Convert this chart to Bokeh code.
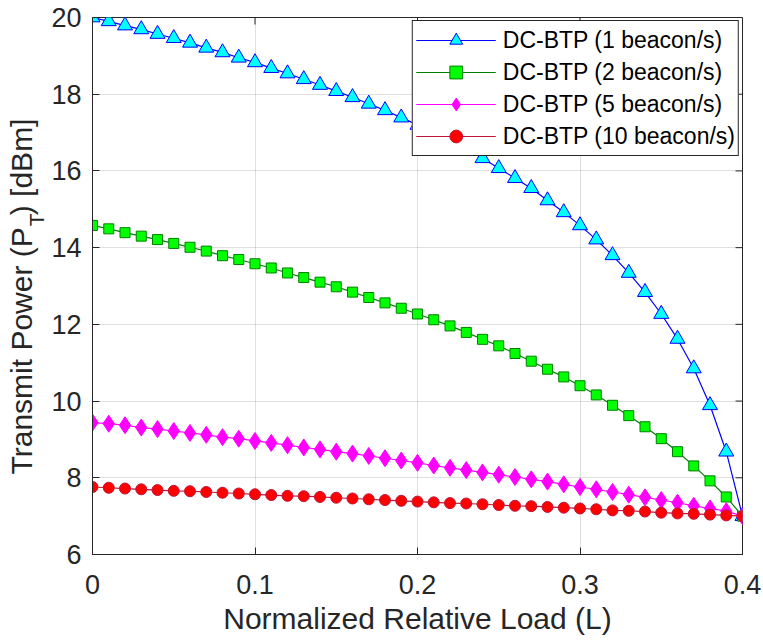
import math
from bokeh.plotting import figure
from bokeh.models import (Range1d, FixedTicker, Legend, LegendItem, Title,
                          ColumnDataSource, CustomJSTickFormatter)
from bokeh.embed import file_html
from bokeh.resources import INLINE

# ---------------- data ----------------
load = [0.00, 0.01, 0.02, 0.03, 0.04, 0.05, 0.06, 0.07, 0.08, 0.09,
        0.10, 0.11, 0.12, 0.13, 0.14, 0.15, 0.16, 0.17, 0.18, 0.19,
        0.20, 0.21, 0.22, 0.23, 0.24, 0.25, 0.26, 0.27, 0.28, 0.29,
        0.30, 0.31, 0.32, 0.33, 0.34, 0.35, 0.36, 0.37, 0.38, 0.39, 0.40]

p_1beacon = [20.00, 19.90, 19.79, 19.69, 19.57, 19.46, 19.34, 19.21, 19.09, 18.95,
             18.83, 18.68, 18.54, 18.39, 18.24, 18.08, 17.92, 17.75, 17.58, 17.39,
             17.20, 17.00, 16.79, 16.57, 16.33, 16.07, 15.81, 15.55, 15.23, 14.92,
             14.58, 14.21, 13.80, 13.34, 12.84, 12.27, 11.62, 10.85, 9.89, 8.68, 7.00]

p_2beacon = [14.58, 14.49, 14.39, 14.30, 14.21, 14.11, 14.01, 13.91, 13.79, 13.69,
             13.58, 13.47, 13.34, 13.22, 13.10, 12.98, 12.84, 12.70, 12.56, 12.42,
             12.27, 12.12, 11.96, 11.79, 11.61, 11.44, 11.24, 11.04, 10.83, 10.63,
             10.40, 10.16, 9.89, 9.62, 9.33, 9.02, 8.68, 8.31, 7.92, 7.50, 7.00]

p_5beacon = [9.44, 9.41, 9.37, 9.31, 9.27, 9.22, 9.17, 9.12, 9.06, 9.02,
             8.96, 8.91, 8.85, 8.79, 8.74, 8.68, 8.63, 8.57, 8.51, 8.45,
             8.39, 8.32, 8.26, 8.20, 8.14, 8.08, 8.02, 7.96, 7.90, 7.83,
             7.76, 7.70, 7.63, 7.56, 7.49, 7.42, 7.35, 7.27, 7.20, 7.13, 7.00]

p_10beacon = [7.76, 7.74, 7.72, 7.70, 7.68, 7.66, 7.65, 7.63, 7.61, 7.59,
              7.57, 7.55, 7.53, 7.52, 7.50, 7.48, 7.46, 7.44, 7.42, 7.40,
              7.38, 7.36, 7.34, 7.33, 7.31, 7.29, 7.27, 7.26, 7.24, 7.22,
              7.20, 7.18, 7.15, 7.14, 7.12, 7.09, 7.07, 7.06, 7.04, 7.02, 7.00]

series_labels = ["DC-BTP (1 beacon/s)", "DC-BTP (2 beacon/s)",
                 "DC-BTP (5 beacon/s)", "DC-BTP (10 beacon/s)"]

x_ticks = [0, 0.1, 0.2, 0.3, 0.4]
y_ticks = [6, 8, 10, 12, 14, 16, 18, 20]

x_label = "Normalized Relative Load (L)"
y_label_main = "Transmit Power (P\u2009\u2009) [dBm]"
y_label_sub = "T"

# ---------------- layout / styles ----------------
FONT = "Liberation Sans"
AX = "#262626"
X0, X1, Y0, Y1 = 0, 0.4, 6, 20
FRAME_L, FRAME_T, FRAME_W, FRAME_H = 92, 17, 650, 537
PX_X = FRAME_W / (X1 - X0)
PX_Y = FRAME_H / (Y1 - Y0)

styles = [
    dict(marker="triangle", size=15, line="#0000FF", fill="#00FFFF", edge="#0000FF"),
    dict(marker="square", size=10, line="#008000", fill="#00FF00", edge="#008000"),
    dict(marker="diamond", size=17, line="#FF00FF", fill="#FF00FF", edge="#FF00FF"),
    dict(marker="circle", size=11, line="#C0143C", fill="#FF0000", edge="#C0143C"),
]

p = figure(width=763, height=643, x_range=Range1d(X0, X1), y_range=Range1d(Y0, Y1),
           output_backend="svg", toolbar_location=None,
           min_border_left=FRAME_L, min_border_right=763 - FRAME_L - FRAME_W,
           min_border_top=FRAME_T, min_border_bottom=643 - FRAME_T - FRAME_H)
p.outline_line_color = AX
p.outline_line_width = 1
p.outline_line_alpha = 1
p.background_fill_color = "white"
p.border_fill_color = "white"

p.xaxis.ticker = FixedTicker(ticks=x_ticks)
p.yaxis.ticker = FixedTicker(ticks=y_ticks)

for ax in (p.xaxis[0], p.yaxis[0]):
    ax.axis_line_color = AX
    ax.axis_line_width = 1
    ax.major_tick_line_color = AX
    ax.major_tick_line_width = 1
    ax.major_tick_in = 7
    ax.major_tick_out = 0
    ax.minor_tick_line_color = None
    ax.major_label_text_font = FONT
    ax.major_label_text_font_size = "27px"
    ax.major_label_text_color = AX

bottom = p.xaxis[0]
left = p.yaxis[0]
bottom.formatter = CustomJSTickFormatter(code="return tick == 0 ? '0' : tick.toFixed(1);")
bottom.major_label_standoff = 20
bottom.axis_label = x_label
bottom.axis_label_text_font = FONT
bottom.axis_label_text_font_size = "30px"
bottom.axis_label_text_font_style = "normal"
bottom.axis_label_text_color = AX
bottom.axis_label_standoff = 5
left.major_label_standoff = 11

for g in (p.xgrid, p.ygrid):
    g.grid_line_color = AX
    g.grid_line_alpha = 0.15
    g.grid_line_width = 1

# inward ticks on the top and right sides of the box
tick_len = 7
p.segment(x0=x_ticks, y0=[Y1] * len(x_ticks), x1=x_ticks,
          y1=[Y1 - tick_len / PX_Y] * len(x_ticks), line_color=AX, line_width=1)
p.segment(x0=[X1] * len(y_ticks), y0=y_ticks, x1=[X1 - tick_len / PX_X] * len(y_ticks),
          y1=y_ticks, line_color=AX, line_width=1)

# ---------------- data renderers ----------------
items = []
for label, ys, st in zip(series_labels, [p_1beacon, p_2beacon, p_5beacon, p_10beacon], styles):
    src = ColumnDataSource(dict(x=load, y=ys))
    lr = p.line("x", "y", source=src, line_color=st["line"], line_width=1.2)
    sr = p.scatter("x", "y", source=src, marker=st["marker"], size=st["size"],
                   fill_color=st["fill"], line_color=st["edge"], line_width=1)
    items.append(LegendItem(label=label, renderers=[lr, sr]))

legend = Legend(items=items, location="top_right", margin=3, padding=3, spacing=0,
                glyph_width=80, glyph_height=32, label_height=32, label_standoff=7,
                label_text_font=FONT, label_text_font_size="23px", label_text_color="black",
                border_line_color=AX, border_line_width=1, border_line_alpha=1,
                background_fill_color="white", background_fill_alpha=1)
p.add_layout(legend)

# ---------------- y-axis label (with subscript) as side-panel titles ----------------
main_fs = 30
sub_fs = 21
start_offset = 80                       # px from frame bottom where the label starts
w_main_prefix = 8.279 * main_fs         # advance of "Transmit Power (P"
sub_title = Title(text=y_label_sub, align="left", vertical_align="bottom",
                  offset=start_offset + w_main_prefix, standoff=1,
                  text_font=FONT, text_font_size=f"{sub_fs}px", text_font_style="normal",
                  text_color=AX)
main_title = Title(text=y_label_main, align="left", vertical_align="bottom",
                   offset=start_offset, standoff=-31,
                   text_font=FONT, text_font_size=f"{main_fs}px", text_font_style="normal",
                   text_color=AX)
p.add_layout(sub_title, "left")
p.add_layout(main_title, "left")

open("out.html", "w").write(file_html(p, INLINE))
